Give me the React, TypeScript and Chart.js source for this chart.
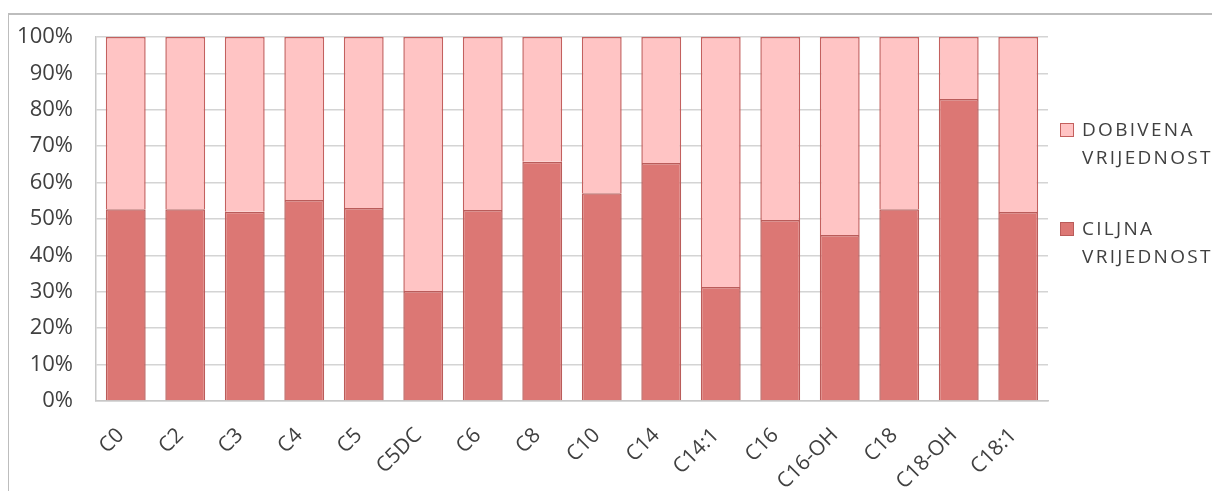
import React, { useEffect, useRef } from "react";
import { Chart, registerables } from "chart.js";

Chart.register(...registerables);

const categories = ["C0", "C2", "C3", "C4", "C5", "C5DC", "C6", "C8", "C10", "C14", "C14:1", "C16", "C16-OH", "C18", "C18-OH", "C18:1"];
// share of the target value (bottom segment), percent
const ciljna = [52.7, 52.7, 52.0, 55.2, 53.0, 30.2, 52.5, 65.7, 57.1, 65.4, 31.3, 49.7, 45.6, 52.7, 83.0, 51.9];
const dobivena = ciljna.map((v) => Math.round((100 - v) * 10) / 10);
const yTicks = [0, 10, 20, 30, 40, 50, 60, 70, 80, 90, 100];

const FONT = "'Open Sans', sans-serif";

export default function App() {
  const ref = useRef<HTMLCanvasElement | null>(null);
  useEffect(() => {
    if (!ref.current) return;
    const chart = new Chart(ref.current, {
      type: "bar",
      data: {
        labels: categories,
        datasets: [
          {
            label: "CILJNA VRIJEDNOST",
            data: ciljna,
            backgroundColor: "#DC7774",
            borderColor: "#BA5C5A",
            borderWidth: 1.5,
            barPercentage: 0.67,
            categoryPercentage: 1,
          },
          {
            label: "DOBIVENA VRIJEDNOST",
            data: dobivena,
            backgroundColor: "#FFC4C4",
            borderColor: "#C4605E",
            borderWidth: 1.5,
            barPercentage: 0.67,
            categoryPercentage: 1,
          },
        ],
      },
      options: {
        responsive: false,
        animation: false,
        layout: { padding: { left: 0, top: 29, right: 172, bottom: 0 } },
        plugins: { legend: { display: false }, tooltip: { enabled: false } },
        scales: {
          x: {
            stacked: true,
            grid: { display: false, drawTicks: false },
            border: { color: "#c8c8c8", width: 1.5 },
            ticks: {
              color: "#404040",
              font: { family: FONT, size: 21 },
              maxRotation: 45,
              minRotation: 45,
              padding: 22,
              labelOffset: -5,
              autoSkip: false,
            },
            afterFit: (s: any) => {
              s.height = 90;
              s.paddingLeft = 0;
              s.paddingRight = 0;
            },
          },
          y: {
            stacked: true,
            min: 0,
            max: 100,
            afterBuildTicks: (s: any) => {
              s.ticks = yTicks.map((v) => ({ value: v }));
            },
            grid: { color: "#d4d4d4", lineWidth: 1.5, drawTicks: false },
            border: { color: "#c8c8c8", width: 1.5 },
            ticks: {
              color: "#404040",
              font: { family: FONT, size: 22 },
              padding: 23,
              callback: (v: any) => v + "%",
            },
            afterFit: (s: any) => {
              s.width = 88;
              s.paddingTop = 0;
              s.paddingBottom = 0;
            },
          },
        },
      },
    });
    return () => chart.destroy();
  }, []);

  const legendText: React.CSSProperties = {
    position: "absolute",
    fontFamily: FONT,
    fontSize: 19,
    lineHeight: "28px",
    letterSpacing: "2.3px",
    color: "#404040",
    whiteSpace: "nowrap",
  };
  const box = (top: number, color: string, border: string): React.CSSProperties => ({
    position: "absolute",
    left: 1052,
    top,
    width: 12,
    height: 12,
    background: color,
    border: `1.5px solid ${border}`,
  });

  return (
    <div style={{ position: "relative", width: 1212, height: 483, overflow: "hidden" }}>
      <div
        style={{
          position: "absolute",
          left: -1,
          top: 5,
          width: 1400,
          height: 1000,
          border: "2px solid #bdbdbd",
          boxSizing: "border-box",
        }}
      />
      <canvas ref={ref} width={1212} height={483} style={{ position: "absolute", left: 0, top: 0 }} />
      <div style={box(115, "#FFC4C4", "#C4605E")} />
      <div style={{ ...legendText, left: 1074, top: 107 }}>
        DOBIVENA
        <br />
        VRIJEDNOST
      </div>
      <div style={box(214, "#DC7774", "#BA5C5A")} />
      <div style={{ ...legendText, left: 1074, top: 206 }}>
        CILJNA
        <br />
        VRIJEDNOST
      </div>
    </div>
  );
}
